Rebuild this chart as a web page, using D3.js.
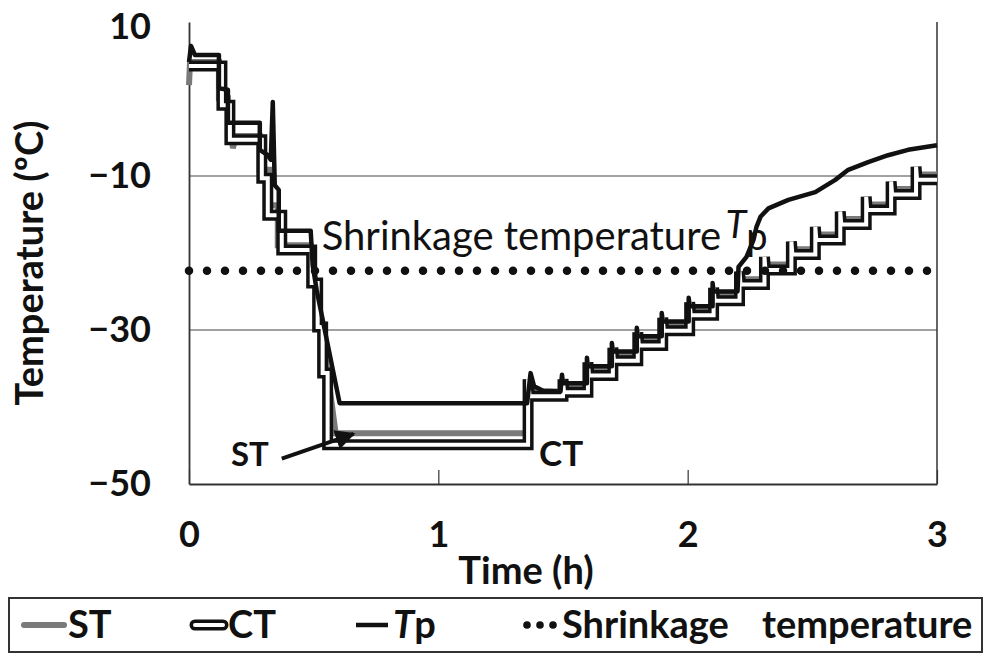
<!DOCTYPE html>
<html>
<head>
<meta charset="utf-8">
<script src="https://cdn.jsdelivr.net/npm/d3@7"></script>
<style>
  body { margin: 0; background: #fff; }
  text { font-family: Lato, "Open Sans", sans-serif; fill: #111; }
</style>
</head>
<body>
<div id="chart"></div>
<script>
// time (h), temperature (°C)
const tpSeries = [
  [0, 4.8], [0.008, 6.9], [0.024, 5.7], [0.12, 5.7], [0.12, 1.4], [0.156, 1.2], [0.156, -3.1],
  [0.284, -3.1], [0.284, -6.6], [0.316, -7.3], [0.328, -7.9], [0.336, -0.4], [0.344, -11.2],
  [0.36, -11.8], [0.36, -17.1], [0.488, -17.1], [0.496, -21.6], [0.512, -24.8], [0.604, -39.5],
  [1.356, -39.5], [1.37, -35.6], [1.384, -37.3], [1.42, -37.9], [1.49, -38.0],
  [1.496, -35.8], [1.5, -36.9], [1.596, -36.9],
  [1.596, -33.6], [1.6, -34.7], [1.696, -34.7],
  [1.696, -31.7], [1.7, -32.8], [1.796, -32.8],
  [1.796, -29.7], [1.8, -30.8], [1.896, -30.8],
  [1.896, -27.8], [1.9, -28.9], [2.004, -28.9],
  [2.004, -25.8], [2.008, -26.9], [2.1, -26.9],
  [2.1, -23.9], [2.104, -25.0], [2.2, -25.0],
  [2.204, -21.8], [2.236, -20.5], [2.264, -18.3], [2.276, -16.6], [2.292, -15.3], [2.324, -14.2],
  [2.404, -13.1], [2.512, -12.1], [2.592, -10.5], [2.644, -9.2], [2.724, -8.2], [2.804, -7.3],
  [2.884, -6.6], [3.0, -6.0]
];

const stSeries = [
  [0, 1.8], [0.004, 4.8], [0.12, 4.8], [0.12, 0.1], [0.156, 0.1], [0.156, -4.7], [0.172, -4.7],
  [0.176, -6.4], [0.188, -4.8], [0.284, -4.8], [0.284, -9.2], [0.324, -9.2], [0.324, -13.8],
  [0.356, -13.8], [0.356, -19.0], [0.488, -19.0], [0.588, -43.4], [1.36, -43.4],
  [1.36, -38.0], [1.5, -38.0], [1.5, -37.4], [1.6, -37.4], [1.6, -35.2], [1.7, -35.2],
  [1.7, -33.3], [1.8, -33.3], [1.8, -31.3], [1.9, -31.3], [1.9, -29.4], [2.008, -29.4],
  [2.008, -27.4], [2.104, -27.4], [2.104, -25.5], [2.208, -25.5], [2.208, -23.4], [2.308, -23.4],
  [2.308, -21.5], [2.416, -21.5], [2.416, -19.5], [2.512, -19.5], [2.512, -17.6], [2.612, -17.6],
  [2.612, -15.6], [2.716, -15.6], [2.716, -13.7], [2.816, -13.7], [2.816, -11.7], [2.916, -11.7],
  [2.916, -9.8], [3.0, -9.8]
];

const ctSeries = [
  [0, 4.3], [0.132, 4.3], [0.132, -0.8], [0.164, -0.8], [0.164, -5.3], [0.292, -5.3],
  [0.292, -10.3], [0.316, -10.3], [0.316, -15.1], [0.372, -15.1], [0.372, -19.6], [0.492, -19.6],
  [0.492, -23.9], [0.516, -23.9], [0.516, -29.6], [0.536, -29.6], [0.536, -35.6], [0.556, -35.6],
  [0.556, -44.9], [1.36, -44.9],
  [1.36, -36.4], [1.366, -38.6], [1.5, -38.6],
  [1.5, -36.4], [1.504, -38.1], [1.6, -38.1],
  [1.6, -34.2], [1.604, -35.9], [1.7, -35.9],
  [1.7, -32.3], [1.704, -34.0], [1.8, -34.0],
  [1.8, -30.3], [1.804, -32.0], [1.9, -32.0],
  [1.9, -28.4], [1.904, -30.1], [2.008, -30.1],
  [2.008, -26.4], [2.012, -28.1], [2.104, -28.1],
  [2.104, -24.5], [2.108, -26.2], [2.208, -26.2],
  [2.208, -22.4], [2.212, -24.1], [2.308, -24.1],
  [2.308, -20.5], [2.312, -22.2], [2.416, -22.2],
  [2.416, -18.5], [2.42, -20.2], [2.512, -20.2],
  [2.512, -16.6], [2.516, -18.3], [2.612, -18.3],
  [2.612, -14.6], [2.616, -16.3], [2.716, -16.3],
  [2.716, -12.7], [2.72, -14.4], [2.816, -14.4],
  [2.816, -10.7], [2.82, -12.4], [2.916, -12.4],
  [2.916, -8.8], [2.92, -10.5], [3.0, -10.5]
];

const shrinkTemp = -22.3;
const xTicks = [0, 1, 2, 3];
const yTicks = [10, -10, -30, -50];
const gridTemps = [-10, -30];
const legendItems = ["ST", "CT", "Tp", "Shrinkage temperature"];

const width = 987, height = 654;
const svg = d3.select("#chart").append("svg")
  .attr("width", width)
  .attr("height", height);

const x = d3.scaleLinear().domain([0, 3]).range([189, 937]);
const y = d3.scaleLinear().domain([-50, 10]).range([484, 22]);

// grid
svg.append("g").selectAll("line")
  .data(gridTemps)
  .join("line")
  .attr("x1", x(0)).attr("x2", x(3))
  .attr("y1", d => y(d)).attr("y2", d => y(d))
  .attr("stroke", "#444").attr("stroke-width", 1.2);

// right border
svg.append("line")
  .attr("x1", x(3)).attr("x2", x(3))
  .attr("y1", y(10)).attr("y2", y(-50))
  .attr("stroke", "#333").attr("stroke-width", 1.5);

// axes
const fmt = d => d < 0 ? "\u2212" + Math.abs(d) : String(d);

const yAxis = svg.append("g")
  .attr("transform", `translate(${x(0)},0)`)
  .call(d3.axisLeft(y).tickValues(yTicks).tickSize(0).tickPadding(38).tickFormat(fmt));

const xAxis = svg.append("g")
  .attr("transform", `translate(0,${y(-50)})`)
  .call(d3.axisBottom(x).tickValues(xTicks).tickSizeInner(-14).tickSizeOuter(0).tickPadding(37).tickFormat(fmt));

[yAxis, xAxis].forEach(a => {
  a.select(".domain").attr("stroke", "#333").attr("stroke-width", 1.8);
  a.selectAll(".tick line").attr("stroke", "#333").attr("stroke-width", 1.2);
  a.selectAll(".tick text")
    .attr("font-family", "Lato, sans-serif")
    .attr("font-size", 36)
    .attr("font-weight", "bold")
    .attr("fill", "#111");
});
// top label sits a little lower, as in the original
yAxis.selectAll(".tick text").filter(d => d === 10).attr("dy", "0.47em");

svg.append("text")
  .attr("x", 526).attr("y", 584)
  .attr("text-anchor", "middle")
  .attr("font-size", 38).attr("font-weight", "bold")
  .text("Time (h)");

svg.append("text")
  .attr("transform", `translate(43,263) rotate(-90)`)
  .attr("text-anchor", "middle")
  .attr("font-size", 38).attr("font-weight", "bold")
  .text("Temperature (\u00baC)");

// series
const line = d3.line().x(d => x(d[0])).y(d => y(d[1]));

const plot = svg.append("g");

plot.append("path")
  .datum(stSeries)
  .attr("d", line)
  .attr("fill", "none")
  .attr("stroke", "#7a7a7a")
  .attr("stroke-width", 6);

plot.append("path")
  .datum(ctSeries)
  .attr("d", line)
  .attr("fill", "none")
  .attr("stroke", "#111")
  .attr("stroke-width", 11);

plot.append("path")
  .datum(ctSeries)
  .attr("d", line)
  .attr("fill", "none")
  .attr("stroke", "#fff")
  .attr("stroke-width", 4);

plot.append("path")
  .datum(tpSeries)
  .attr("d", line)
  .attr("fill", "none")
  .attr("stroke", "#111")
  .attr("stroke-width", 4.5)
  .attr("stroke-linejoin", "round");

plot.append("line")
  .attr("x1", x(0)).attr("x2", x(3))
  .attr("y1", y(shrinkTemp)).attr("y2", y(shrinkTemp))
  .attr("stroke", "#111")
  .attr("stroke-width", 8.5)
  .attr("stroke-linecap", "round")
  .attr("stroke-dasharray", "0 18");

// annotations
svg.append("text")
  .attr("x", x(0.532)).attr("y", y(-19.6))
  .attr("font-size", 40)
  .text("Shrinkage temperature");

const tpLabel = svg.append("text")
  .attr("x", x(2.152)).attr("y", y(-19.6))
  .attr("font-size", 38);
tpLabel.append("tspan").attr("font-style", "italic").attr("dy", -12).text("T");
tpLabel.append("tspan").attr("dy", 12).text("p");

svg.append("text")
  .attr("x", x(0.244)).attr("y", y(-47.7))
  .attr("text-anchor", "middle")
  .attr("font-size", 33).attr("font-weight", "bold")
  .text("ST");

svg.append("text")
  .attr("x", x(1.404)).attr("y", y(-47.7))
  .attr("font-size", 35).attr("font-weight", "bold")
  .text("CT");

svg.append("defs").append("marker")
  .attr("id", "arrow")
  .attr("viewBox", "0 0 10 10")
  .attr("refX", 9).attr("refY", 5)
  .attr("markerWidth", 5).attr("markerHeight", 5)
  .attr("orient", "auto")
  .append("path")
  .attr("d", "M0,0L10,5L0,10z")
  .attr("fill", "#111");

svg.append("line")
  .attr("x1", x(0.372)).attr("y1", y(-46.7))
  .attr("x2", x(0.66)).attr("y2", y(-43.5))
  .attr("stroke", "#111").attr("stroke-width", 4)
  .attr("marker-end", "url(#arrow)");

// legend
const legend = svg.append("g");
legend.append("rect")
  .attr("x", 9).attr("y", 598)
  .attr("width", 973).attr("height", 54)
  .attr("fill", "none").attr("stroke", "#333").attr("stroke-width", 2);

const ly = 625;
legend.append("line")
  .attr("x1", 24).attr("x2", 64).attr("y1", ly).attr("y2", ly)
  .attr("stroke", "#7a7a7a").attr("stroke-width", 6).attr("stroke-linecap", "round");

legend.append("line")
  .attr("x1", 195).attr("x2", 223).attr("y1", ly).attr("y2", ly)
  .attr("stroke", "#111").attr("stroke-width", 11).attr("stroke-linecap", "round");
legend.append("line")
  .attr("x1", 195).attr("x2", 223).attr("y1", ly).attr("y2", ly)
  .attr("stroke", "#fff").attr("stroke-width", 4).attr("stroke-linecap", "round");

legend.append("line")
  .attr("x1", 356).attr("x2", 388).attr("y1", ly).attr("y2", ly)
  .attr("stroke", "#111").attr("stroke-width", 4.5);

legend.selectAll("circle")
  .data([0, 1, 2])
  .join("circle")
  .attr("cx", d => 527 + d * 13).attr("cy", ly).attr("r", 3.8)
  .attr("fill", "#111");

const lt = legend.append("g")
  .attr("font-size", 38).attr("font-weight", "bold");
lt.append("text").attr("x", 68).attr("y", ly + 13).text(legendItems[0]);
lt.append("text").attr("x", 228).attr("y", ly + 13).text(legendItems[1]);
const tpl = lt.append("text").attr("x", 393).attr("y", ly + 13);
tpl.append("tspan").attr("font-style", "italic").text("T");
tpl.append("tspan").text("p");
const words = legendItems[3].split(" ");
lt.append("text").attr("x", 562).attr("y", ly + 13).text(words[0]);
lt.append("text").attr("x", 762).attr("y", ly + 13).text(words[1]);
</script>
</body>
</html>
